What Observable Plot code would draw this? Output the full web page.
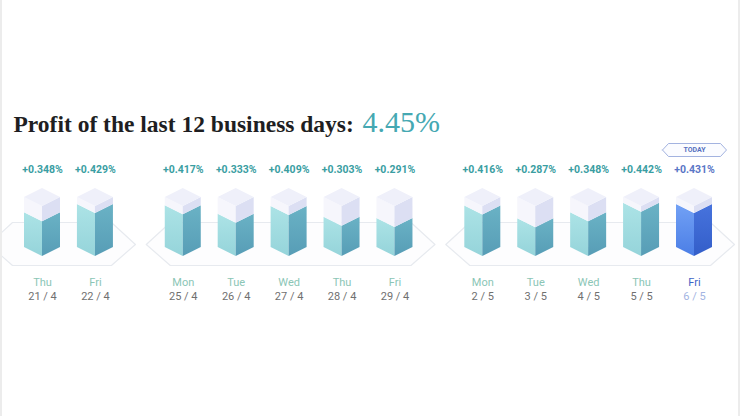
<!DOCTYPE html>
<html><head><meta charset="utf-8">
<script src="https://cdn.jsdelivr.net/npm/d3@7"></script>
<script src="https://cdn.jsdelivr.net/npm/@observablehq/plot@0.6"></script>
<style>
html,body{margin:0;padding:0;background:#fff;}
#chart{position:relative;width:740px;height:416px;overflow:hidden;}
.edge{position:absolute;top:0;bottom:0;width:2px;background:#ececec;}
svg{display:block;}
</style></head><body>
<div id="chart"><div class="edge" style="left:0"></div><div class="edge" style="right:0"></div></div>
<script>
const titleText = "Profit of the last 12 business days:";
const totalText = "4.45%";
const todayLabel = "TODAY";
const days = ["Thu","Fri","Mon","Tue","Wed","Thu","Fri","Mon","Tue","Wed","Thu","Fri"];
const dates = ["21 / 4","22 / 4","25 / 4","26 / 4","27 / 4","28 / 4","29 / 4","2 / 5","3 / 5","4 / 5","5 / 5","6 / 5"];
const profits = [0.348,0.429,0.417,0.333,0.409,0.303,0.291,0.416,0.287,0.348,0.442,0.431];
const weeks = [0,0,1,1,1,1,1,2,2,2,2,2];

// ---- layout ----
const last = profits.length - 1;
const GAP = 0.66;                       // extra slot space for a weekend
const slots = profits.map((_, i) => i + weeks[i] * GAP);
const X0 = 42, X1 = 694, YB = 256, WIDTH = 740, HEIGHT = 416;
const xMax = slots[last];
const pxX = xMax / (X1 - X0);            // slot units per pixel
const pxY = 0.01;                        // value units (%) per pixel
const yAt = py => (YB - py) * pxY;       // pixel row -> y value
const W = 18 * pxX, H = 9 * pxY, T = 0.5;

// isometric faces of every bar
const faces = [];
profits.forEach((v, i) => {
  const s = slots[i], today = i === last;
  const add = (id, fill, pts) => pts.forEach(([x, y1, y2]) => faces.push({id: i + "-" + id, fill, x, y1, y2}));
  add("cl", today ? "url(#gTodayL)" : "url(#gTealL)", [[s - W, H, v + H], [s, 0, v]]);
  add("cr", today ? "url(#gTodayR)" : "url(#gTealR)", [[s, 0, v], [s + W, H, v + H]]);
  add("wl", "#f6f6fc", [[s - W, v + H, T + H], [s, v, T]]);
  add("wr", "#dcdff3", [[s, v, T], [s + W, v + H, T + H]]);
  add("tp", "#eff0fa", [[s - W, T + H, T + H], [s, T, T + 2 * H], [s + W, T + H, T + H]]);
});

// platforms under each week
const platforms = [];
d3.groups(slots.map((s, i) => ({s, w: weeks[i]})), d => d.w).forEach(([w, g]) => {
  const a = g[0].s, b = g[g.length - 1].s;
  const L = a - (w === 0 ? 54 : 37) * pxX, R = b + 40 * pxX, D = 24 * pxX;
  [[L, yAt(244)], [L + D, yAt(222)], [R - D, yAt(222)], [R, yAt(244)], [R - D, yAt(265)], [L + D, yAt(265)], [L, yAt(244)]]
    .forEach(([x, y]) => platforms.push({w, x, y}));
});

// today badge
const ts = slots[last];
const badge = [[-32, 149.5], [-26, 143], [26, 143], [32, 149.5], [26, 156], [-26, 156], [-32, 149.5]]
  .map(([dx, py]) => ({x: ts + dx * pxX, y: yAt(py)}));

const plot = Plot.plot({
  width: WIDTH, height: HEIGHT,
  marginLeft: 0, marginRight: 0, marginTop: 0, marginBottom: 0,
  x: {domain: [0, xMax], range: [X0, X1], axis: null},
  y: {domain: [yAt(HEIGHT), yAt(0)], axis: null},
  color: {type: "identity"},
  style: {background: "transparent"},
  marks: [
    Plot.line(platforms, {x: "x", y: "y", z: "w", stroke: "#e7eaef", strokeWidth: 1.2, fill: "#fdfdfe", curve: "linear"}),
    Plot.areaY(faces, {x: "x", y1: "y1", y2: "y2", z: "id", fill: "fill", curve: "linear"}),
    Plot.text([titleText], {frameAnchor: "top-left", dx: 13, dy: 131, lineAnchor: "bottom", textAnchor: "start",
      fontFamily: "Liberation Serif", fontWeight: "bold", fontSize: 23.5, fill: "#1e1e22"}),
    Plot.text([totalText], {frameAnchor: "top-left", dx: 362, dy: 131, lineAnchor: "bottom", textAnchor: "start",
      fontFamily: "Liberation Serif", fontSize: 30, fill: "#45a8b2"}),
    Plot.text(profits, {x: (d, i) => slots[i], frameAnchor: "top", dy: 169, lineAnchor: "middle",
      text: d => "+" + d.toFixed(3) + "%", fill: (d, i) => i === last ? "#5a76c6" : "#3a9ea2",
      fontFamily: "Roboto", fontWeight: 700, fontSize: 10.5}),
    Plot.text(days, {x: (d, i) => slots[i], frameAnchor: "top", dy: 282, lineAnchor: "middle",
      fill: (d, i) => i === last ? "#3f64c6" : "#8bc6b6", fontWeight: (d, i) => i === last ? 700 : 500,
      fontFamily: "Roboto", fontSize: 11}),
    Plot.text(dates, {x: (d, i) => slots[i], frameAnchor: "top", dy: 296, lineAnchor: "middle",
      fill: (d, i) => i === last ? "#a3b4e2" : "#707070",
      fontFamily: "Roboto", fontSize: 11}),
    Plot.line(badge, {x: "x", y: "y", stroke: "#a3b3e0", strokeWidth: 1, fill: "#fbfcff", curve: "linear"}),
    Plot.text([todayLabel], {x: () => ts, frameAnchor: "top", dy: 149.5, lineAnchor: "middle",
      fill: "#5670c0", fontFamily: "Roboto", fontWeight: 700, fontSize: 7, letterSpacing: "0.4px"})
  ]
});

// gradients for the coloured faces
const defs = d3.select(plot).insert("defs", ":first-child");
[["gTealL", "#ace3e6", "#95d4da"], ["gTealR", "#6ab2c5", "#579db6"],
 ["gTodayL", "#72a1f5", "#4b7ee6"], ["gTodayR", "#4773dd", "#335ec9"]].forEach(([id, a, b]) => {
  const g = defs.append("linearGradient").attr("id", id).attr("x1", 0).attr("y1", 0).attr("x2", 0).attr("y2", 1);
  g.append("stop").attr("offset", "0%").attr("stop-color", a);
  g.append("stop").attr("offset", "100%").attr("stop-color", b);
});
d3.select(plot).selectAll("text").style("letter-spacing", null);
document.getElementById("chart").appendChild(plot);
</script>
</body></html>
